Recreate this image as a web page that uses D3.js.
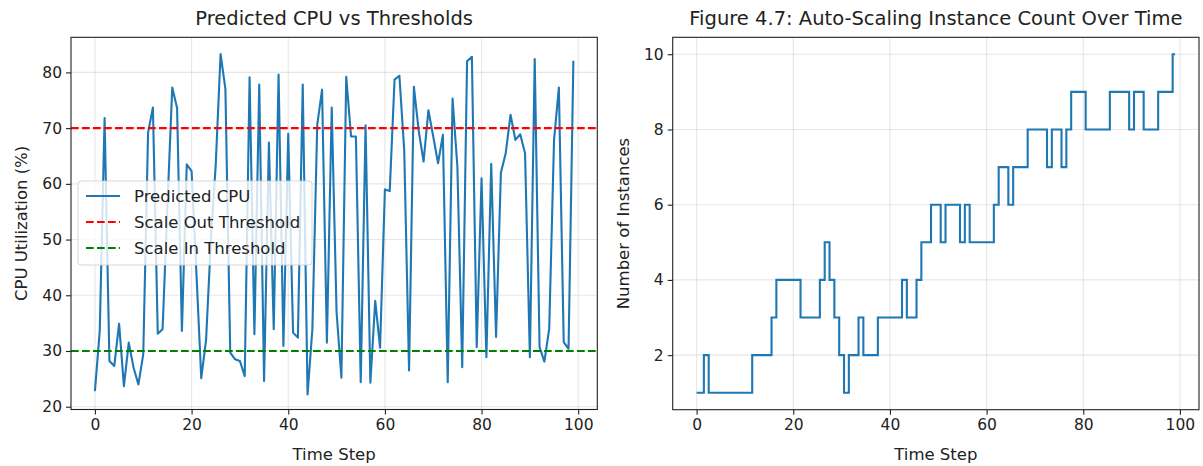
<!DOCTYPE html>
<html>
<head>
<meta charset="utf-8">
<script src="https://cdn.jsdelivr.net/npm/d3@7"></script>
<style>
  body { margin: 0; background: #fff; }
  text { font-family: "DejaVu Sans", sans-serif; fill: #222; }
  .tick text { font-size: 15.5px; }
  .domain { stroke: #222; }
</style>
</head>
<body>
<div id="chart"></div>
<script>
// predicted cpu per time step (%)
var cpu = [22.8, 33.6, 71.8, 28.2, 27.3, 34.9, 23.7, 31.5, 27.0, 24.0,
           29.4, 69.2, 73.7, 33.1, 33.9, 56.0, 77.3, 73.6, 33.6, 63.5,
           62.3, 44.0, 25.1, 32.0, 50.0, 63.5, 83.3, 77.0, 29.7, 28.5,
           28.2, 25.5, 79.1, 33.0, 77.8, 24.6, 67.4, 33.9, 79.6, 30.9,
           69.0, 33.3, 32.4, 77.8, 22.2, 34.0, 70.6, 76.9, 31.5, 73.7,
           37.0, 25.2, 79.2, 68.5, 68.5, 24.4, 70.5, 24.3, 39.0, 30.6,
           59.0, 58.7, 78.7, 79.4, 66.0, 26.5, 77.4, 69.5, 64.0, 73.2,
           68.5, 63.7, 68.8, 24.4, 75.3, 63.1, 27.1, 82.0, 82.8, 30.7,
           61.0, 28.9, 63.6, 32.5, 62.0, 65.5, 72.4, 67.9, 68.9, 65.5,
           28.9, 82.4, 30.7, 28.1, 34.0, 67.9, 77.3, 31.6, 30.4, 82.1];

// instance count per time step
var instances = [1, 1, 2, 1, 1, 1, 1, 1, 1, 1,
                 1, 1, 2, 2, 2, 2, 3, 4, 4, 4,
                 4, 4, 3, 3, 3, 3, 4, 5, 4, 3,
                 2, 1, 2, 2, 3, 2, 2, 2, 3, 3,
                 3, 3, 3, 4, 3, 3, 4, 5, 5, 6,
                 6, 5, 6, 6, 6, 5, 6, 5, 5, 5,
                 5, 5, 6, 7, 7, 6, 7, 7, 7, 8,
                 8, 8, 8, 7, 8, 8, 7, 8, 9, 9,
                 9, 8, 8, 8, 8, 8, 9, 9, 9, 9,
                 8, 9, 9, 8, 8, 8, 9, 9, 9, 10];

var scaleOut = 70, scaleIn = 30;
var xTicks = [0, 20, 40, 60, 80, 100];
var cpuTicks = [20, 30, 40, 50, 60, 70, 80];
var instTicks = [2, 4, 6, 8, 10];

var legendItems = [
    { label: "Predicted CPU", color: "#1f77b4", dash: null },
    { label: "Scale Out Threshold", color: "#ff0000", dash: "7.7,3.3" },
    { label: "Scale In Threshold", color: "#008000", dash: "7.7,3.3" }
];

var width = 1203, height = 466;
var svg = d3.select("#chart").append("svg")
    .attr("width", width)
    .attr("height", height);

var steps = d3.range(cpu.length);

function panel(box, yDomain, yTicks, title, yLabel) {
    var x = d3.scaleLinear().domain([-4.95, 103.95]).range([box.left, box.right]);
    var y = d3.scaleLinear().domain(yDomain).range([box.bottom, box.top]);
    var g = svg.append("g");

    // grid
    g.append("g").selectAll("line").data(xTicks).enter().append("line")
        .attr("x1", d => x(d)).attr("x2", d => x(d))
        .attr("y1", box.top).attr("y2", box.bottom)
        .style("stroke", "#b0b0b0").style("stroke-opacity", 0.3).style("stroke-width", 1.1)
    g.append("g").selectAll("line").data(yTicks).enter().append("line")
        .attr("x1", box.left).attr("x2", box.right)
        .attr("y1", d => y(d)).attr("y2", d => y(d))
        .style("stroke", "#b0b0b0").style("stroke-opacity", 0.3).style("stroke-width", 1.1)

    g.append("g")
        .attr("transform", "translate(0," + box.bottom + ")")
        .call(d3.axisBottom(x).tickValues(xTicks).tickSize(5).tickPadding(4).tickSizeOuter(0))
    g.append("g")
        .attr("transform", "translate(" + box.left + ",0)")
        .call(d3.axisLeft(y).tickValues(yTicks).tickSize(5).tickPadding(4).tickSizeOuter(0))
    g.selectAll(".tick line").style("stroke", "#222").style("stroke-width", 1.1)
    g.selectAll(".domain").remove()

    g.append("text")
        .attr("x", (box.left + box.right) / 2).attr("y", 25)
        .attr("text-anchor", "middle").style("font-size", "19.5px")
        .text(title)
    g.append("text")
        .attr("x", (box.left + box.right) / 2).attr("y", 460)
        .attr("text-anchor", "middle").style("font-size", "16.5px")
        .text("Time Step")
    g.append("text")
        .attr("transform", "translate(" + (box.left - 44) + "," + ((box.top + box.bottom) / 2) + ") rotate(-90)")
        .attr("text-anchor", "middle").style("font-size", "16.5px")
        .text(yLabel)

    return { g: g, x: x, y: y, box: box };
}

function frame(p) {
    p.g.append("rect")
        .attr("x", p.box.left).attr("y", p.box.top)
        .attr("width", p.box.right - p.box.left).attr("height", p.box.bottom - p.box.top)
        .style("fill", "none").style("stroke", "#222").style("stroke-width", 1.1)
}

// left: predicted cpu
var left = panel({ left: 71, right: 597.3, top: 37.3, bottom: 409.5 }, [19.5, 86.3], cpuTicks,
    "Predicted CPU vs Thresholds", "CPU Utilization (%)");

left.g.append("path")
    .datum(steps)
    .attr("d", d3.line().x(i => left.x(i)).y(i => left.y(cpu[i])))
    .style("fill", "none").style("stroke", "#1f77b4").style("stroke-width", 2.1)
    .style("stroke-linejoin", "round")

left.g.selectAll(".thr").data([scaleOut, scaleIn]).enter().append("line")
    .attr("class", "thr")
    .attr("x1", 71).attr("x2", 597.3)
    .attr("y1", d => left.y(d)).attr("y2", d => left.y(d))
    .style("stroke", (d, i) => legendItems[i + 1].color)
    .style("stroke-width", 2.1)
    .style("stroke-dasharray", (d, i) => legendItems[i + 1].dash)
frame(left);

// legend
var lg = left.g.append("g").attr("transform", "translate(78,181)");
lg.append("rect").attr("width", 234).attr("height", 84).attr("rx", 3)
    .style("fill", "#fff").style("fill-opacity", 0.8).style("stroke", "#cccccc").style("stroke-opacity", 0.8)
var li = lg.selectAll(".li").data(legendItems).enter().append("g")
    .attr("class", "li")
    .attr("transform", (d, i) => "translate(0," + (15 + i * 26) + ")");
li.append("line").attr("x1", 8).attr("x2", 42)
    .style("stroke", d => d.color).style("stroke-width", 2.1)
    .style("stroke-dasharray", d => d.dash)
li.append("text").attr("x", 56).attr("y", 6).style("font-size", "16.5px").text(d => d.label)

// right: instance count
var right = panel({ left: 672.7, right: 1199, top: 37.3, bottom: 409.7 }, [0.55, 10.45], instTicks,
    "Figure 4.7: Auto-Scaling Instance Count Over Time", "Number of Instances");

right.g.append("path")
    .datum(steps)
    .attr("d", d3.line().curve(d3.curveStep).x(i => right.x(i)).y(i => right.y(instances[i])))
    .style("fill", "none").style("stroke", "#1f77b4").style("stroke-width", 2.1)
frame(right);
</script>
</body>
</html>
